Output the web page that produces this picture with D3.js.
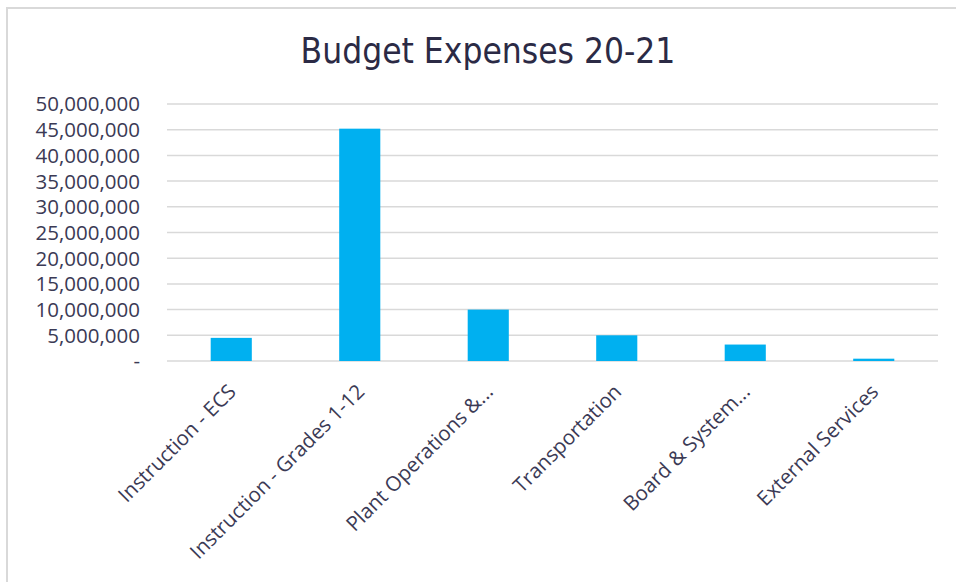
<!DOCTYPE html>
<html>
<head>
<meta charset="utf-8">
<script src="https://cdn.jsdelivr.net/npm/d3@7"></script>
<style>
  body { margin: 0; background: #fff; }
  .tick text { fill: #3b3a55; }
</style>
</head>
<body>
<script>
// categories and values
var categories = ["Instruction - ECS", "Instruction - Grades 1-12", "Plant Operations &...",
                  "Transportation", "Board & System...", "External Services"];
var expenses = [4500000, 45200000, 10000000, 5000000, 3200000, 450000];
var yTicks = [0, 5000000, 10000000, 15000000, 20000000, 25000000, 30000000, 35000000, 40000000, 45000000, 50000000];

var w = 956, h = 582;
var plotLeft = 167, plotRight = 938, plotTop = 104, plotBottom = 361;

var svg = d3.select("body").append("svg")
    .attr("width", w)
    .attr("height", h);

// chart border (only top/left visible in the crop)
svg.append("rect")
    .attr("x", 7).attr("y", 8)
    .attr("width", w + 10).attr("height", h + 10)
    .style("fill", "#fff")
    .style("stroke", "#d9d9d9")
    .style("stroke-width", 2);

var x = d3.scaleBand()
    .domain(categories)
    .range([plotLeft, plotRight])
    .paddingInner(0.68)
    .paddingOuter(0.34);

var y = d3.scaleLinear()
    .domain([0, 50000000])
    .range([plotBottom, plotTop]);

var fmt = d3.format(",");

// gridlines
svg.append("g")
    .selectAll("line")
    .data(yTicks)
    .enter()
    .append("line")
    .attr("x1", plotLeft).attr("x2", plotRight)
    .attr("y1", function(d){ return y(d); })
    .attr("y2", function(d){ return y(d); })
    .style("stroke", "#d9d9d9")
    .style("stroke-width", 1.5);

// y axis labels
var yAxis = d3.axisLeft(y)
    .tickValues(yTicks)
    .tickSize(0)
    .tickPadding(27)
    .tickFormat(function(d){ return d === 0 ? "-" : fmt(d); });

var ya = svg.append("g")
    .attr("transform", "translate(" + plotLeft + ",0)")
    .call(yAxis);
ya.select(".domain").remove();
ya.selectAll("text")
    .style("font-family", "'Open Sans', sans-serif")
    .style("font-size", "20.5px")
    .attr("dy", "0.34em");

// bars
svg.selectAll(".bar")
    .data(expenses)
    .enter()
    .append("rect")
    .attr("class", "bar")
    .attr("x", function(d, i){ return x(categories[i]); })
    .attr("y", function(d){ return y(d); })
    .attr("width", x.bandwidth())
    .attr("height", function(d){ return y(0) - y(d); })
    .style("fill", "#00b0f0");

// x axis labels, rotated
var xAxis = d3.axisBottom(x).tickSize(0).tickPadding(0);
var xa = svg.append("g")
    .attr("transform", "translate(0," + plotBottom + ")")
    .call(xAxis);
xa.select(".domain").remove();
xa.selectAll("text")
    .style("font-family", "'Open Sans', sans-serif")
    .style("font-size", "20.5px")
    .attr("text-anchor", "end")
    .attr("dy", null)
    .attr("y", 0)
    .attr("transform", "translate(6,32) rotate(-45)");

// title
svg.append("text")
    .attr("x", 488)
    .attr("y", 63)
    .attr("text-anchor", "middle")
    .style("font-family", "'Liberation Sans Narrow', 'DejaVu Sans Condensed', sans-serif")
    .style("font-size", "35px")
    .style("fill", "#2b2a45")
    .text("Budget Expenses 20-21");
</script>
</body>
</html>
